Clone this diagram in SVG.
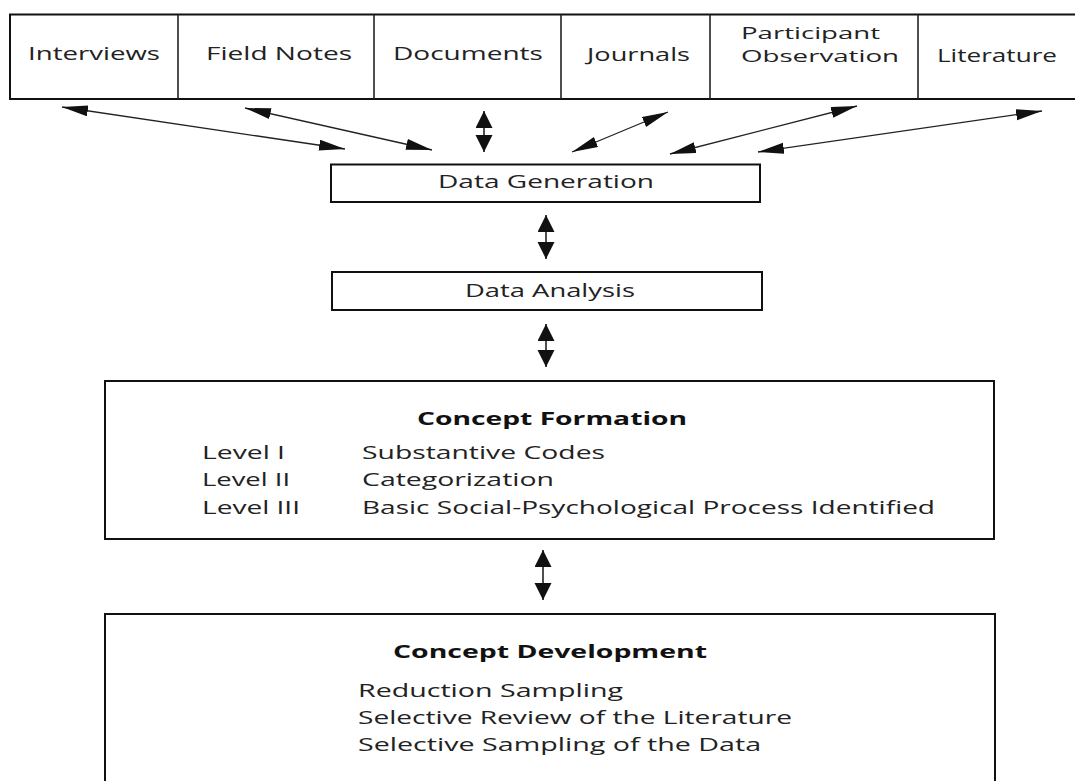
<svg xmlns="http://www.w3.org/2000/svg" width="1075" height="781" viewBox="0 0 1075 781">
  <style>
    .box { fill: #ffffff; stroke: #111111; stroke-width: 2; }
    .div { stroke: #222222; stroke-width: 1.6; }
    .t { font-family: "Open Sans", "Noto Sans", "Liberation Sans", sans-serif; font-size: 18px; font-weight: 500; fill: #222222; }
    .top { font-size: 19px; }
    .sm { font-size: 17px; }
    .b { font-weight: 700; fill: #111111; }
    .link { stroke: #222222; stroke-width: 1.3; fill: none; }
    .vlink { stroke: #222222; stroke-width: 1.6; fill: none; }
  </style>
  <defs>
    <marker id="head" markerUnits="userSpaceOnUse" markerWidth="28" markerHeight="12" refX="26" refY="5.5" orient="auto-start-reverse">
      <path d="M0,0 L26,5.5 L0,11 z" fill="#111111"/>
    </marker>
    <marker id="vhead" markerUnits="userSpaceOnUse" markerWidth="18" markerHeight="18" refX="17" refY="8.5" orient="auto-start-reverse">
      <path d="M0,0 L17,8.5 L0,17 z" fill="#111111"/>
    </marker>
  </defs>

  <rect width="1075" height="781" fill="#ffffff"/>

  <!-- source strip; labels are widened horizontally -->
  <g id="sources">
    <rect class="box" x="10" y="14.5" width="1080" height="84.5"/>
    <line class="div" x1="178" y1="14.5" x2="178" y2="99"/>
    <line class="div" x1="374" y1="14.5" x2="374" y2="99"/>
    <line class="div" x1="561" y1="14.5" x2="561" y2="99"/>
    <line class="div" x1="710" y1="14.5" x2="710" y2="99"/>
    <line class="div" x1="918" y1="14.5" x2="918" y2="99"/>
  </g>
  <g id="interviews"><text class="t top" transform="translate(28 60) scale(1.4 1)" textLength="94.3" lengthAdjust="spacingAndGlyphs">Interviews</text></g>
  <g id="field-notes"><text class="t top" transform="translate(206 60) scale(1.4 1)" textLength="104.3" lengthAdjust="spacingAndGlyphs">Field Notes</text></g>
  <g id="documents"><text class="t top" transform="translate(393 60) scale(1.4 1)" textLength="107.1" lengthAdjust="spacingAndGlyphs">Documents</text></g>
  <g id="journals"><text class="t top" transform="translate(587 61) scale(1.4 1)" textLength="73.6" lengthAdjust="spacingAndGlyphs">Journals</text></g>
  <g id="participant-observation">
    <text class="t sm" transform="translate(741 39) scale(1.4 1)" textLength="99.3" lengthAdjust="spacingAndGlyphs">Participant</text>
    <text class="t sm" transform="translate(741 62) scale(1.4 1)" textLength="112.9" lengthAdjust="spacingAndGlyphs">Observation</text>
  </g>
  <g id="literature"><text class="t top" transform="translate(937 62) scale(1.4 1)" textLength="85.7" lengthAdjust="spacingAndGlyphs">Literature</text></g>

  <!-- process boxes -->
  <g id="data-generation">
    <rect class="box" x="331" y="164.5" width="429" height="37.5"/>
    <text class="t" transform="translate(438 188) scale(1.4 1)" textLength="154.3" lengthAdjust="spacingAndGlyphs">Data Generation</text>
  </g>
  <g id="data-analysis">
    <rect class="box" x="332" y="272" width="430" height="38"/>
    <text class="t" transform="translate(465 297) scale(1.4 1)" textLength="121.4" lengthAdjust="spacingAndGlyphs">Data Analysis</text>
  </g>
  <g id="concept-formation">
    <rect class="box" x="105" y="381" width="889" height="158"/>
    <text class="t b" transform="translate(417 425) scale(1.4 1)" textLength="192.9" lengthAdjust="spacingAndGlyphs">Concept Formation</text>
    <text class="t" transform="translate(202 459) scale(1.4 1)" textLength="59.3" lengthAdjust="spacingAndGlyphs">Level I</text>
    <text class="t" transform="translate(362 459) scale(1.4 1)" textLength="173.6" lengthAdjust="spacingAndGlyphs">Substantive Codes</text>
    <text class="t" transform="translate(202 486) scale(1.4 1)" textLength="62.9" lengthAdjust="spacingAndGlyphs">Level II</text>
    <text class="t" transform="translate(362 486) scale(1.4 1)" textLength="137.1" lengthAdjust="spacingAndGlyphs">Categorization</text>
    <text class="t" transform="translate(202 514) scale(1.4 1)" textLength="70" lengthAdjust="spacingAndGlyphs">Level III</text>
    <text class="t" transform="translate(362 514) scale(1.4 1)" textLength="409.3" lengthAdjust="spacingAndGlyphs">Basic Social-Psychological Process Identified</text>
  </g>
  <g id="concept-development">
    <rect class="box" x="105" y="614" width="890" height="190"/>
    <text class="t b" transform="translate(393 658) scale(1.4 1)" textLength="224.3" lengthAdjust="spacingAndGlyphs">Concept Development</text>
    <text class="t" transform="translate(358 697) scale(1.4 1)" textLength="189.3" lengthAdjust="spacingAndGlyphs">Reduction Sampling</text>
    <text class="t" transform="translate(358 724) scale(1.4 1)" textLength="310" lengthAdjust="spacingAndGlyphs">Selective Review of the Literature</text>
    <text class="t" transform="translate(358 751) scale(1.4 1)" textLength="287.9" lengthAdjust="spacingAndGlyphs">Selective Sampling of the Data</text>
  </g>

  <!-- two-way connectors -->
  <g id="connectors">
    <line class="link" x1="62" y1="107" x2="345" y2="149" marker-start="url(#head)" marker-end="url(#head)"/>
    <line class="link" x1="245" y1="108" x2="432" y2="150" marker-start="url(#head)" marker-end="url(#head)"/>
    <line class="vlink" x1="484" y1="111" x2="484" y2="152" marker-start="url(#vhead)" marker-end="url(#vhead)"/>
    <line class="link" x1="668" y1="112" x2="572" y2="152" marker-start="url(#head)" marker-end="url(#head)"/>
    <line class="link" x1="857" y1="106" x2="670" y2="154" marker-start="url(#head)" marker-end="url(#head)"/>
    <line class="link" x1="1042" y1="111" x2="758" y2="152" marker-start="url(#head)" marker-end="url(#head)"/>
    <line class="vlink" x1="546" y1="215" x2="546" y2="259" marker-start="url(#vhead)" marker-end="url(#vhead)"/>
    <line class="vlink" x1="546" y1="324" x2="546" y2="367" marker-start="url(#vhead)" marker-end="url(#vhead)"/>
    <line class="vlink" x1="543" y1="550" x2="543" y2="600" marker-start="url(#vhead)" marker-end="url(#vhead)"/>
  </g>
</svg>
